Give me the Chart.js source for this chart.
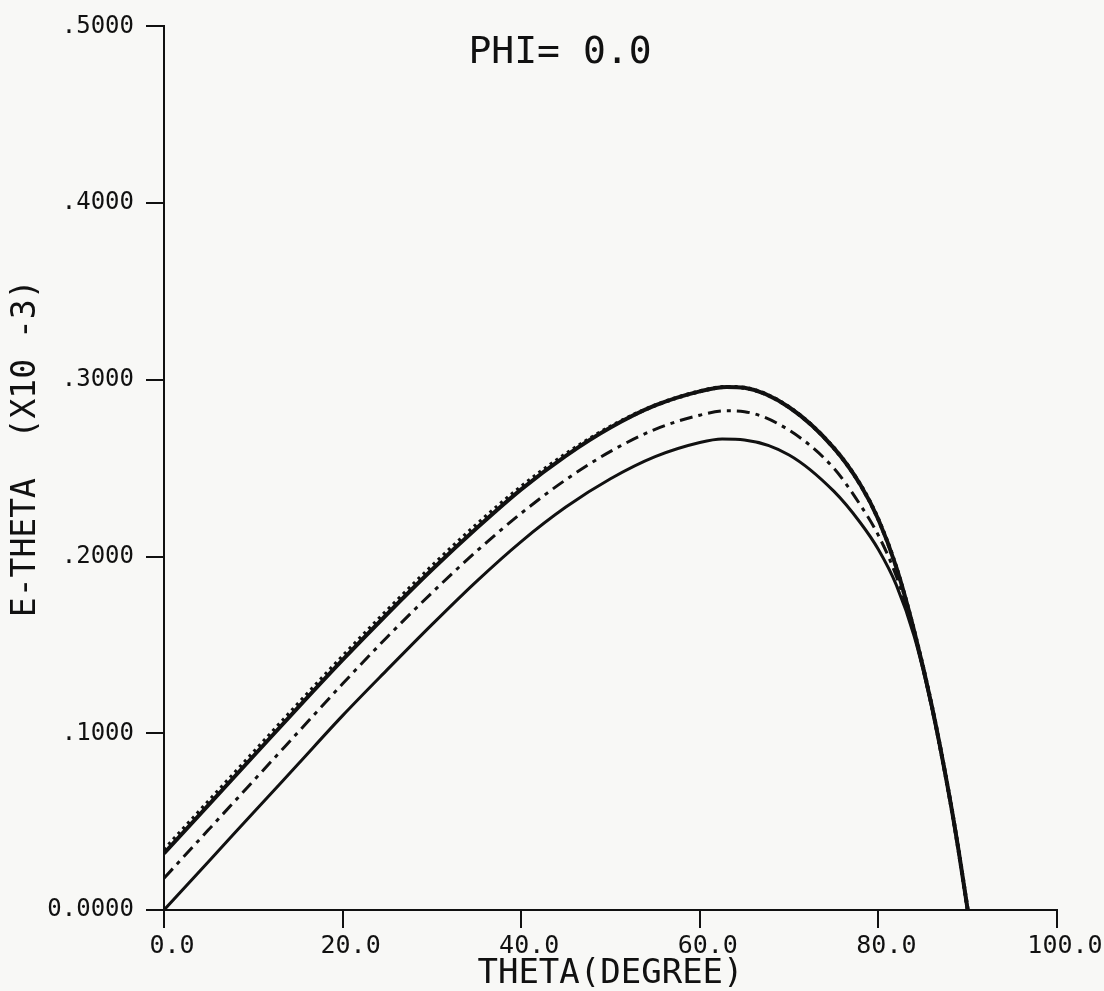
<!DOCTYPE html>
<html>
<head>
<meta charset="utf-8">
<script src="https://cdn.jsdelivr.net/npm/chart.js@4.4.1/dist/chart.umd.min.js"></script>
<style>
  html, body { margin: 0; padding: 0; background: #f8f8f6; }
  #wrap { width: 1104px; height: 991px; }
</style>
</head>
<body>
<div id="wrap"><canvas id="chart" width="1104" height="991"></canvas></div>
<script>
// ---- data ----
const thetaA = [0, 5, 10, 15, 20, 25, 30, 35, 40, 45, 50, 55, 60, 62.5, 65, 70, 75, 78, 80, 82, 84, 86, 88, 89, 90];
const solidA = [0, 0.0275, 0.055, 0.0825, 0.110, 0.136, 0.1615, 0.186, 0.2085, 0.228, 0.244, 0.2565, 0.2645, 0.2665, 0.266, 0.2575, 0.237, 0.219, 0.204, 0.184, 0.155, 0.114, 0.063, 0.033, 0];

const thetaB = [0, 5, 10, 15, 20, 25, 30, 35, 40, 45, 50, 55, 60, 63, 65, 70, 75, 78, 80, 82, 84, 86, 88, 89, 90];
const dashB = [0.018, 0.0455, 0.073, 0.1005, 0.128, 0.1545, 0.1795, 0.203, 0.2245, 0.2435, 0.2595, 0.272, 0.280, 0.2825, 0.282, 0.2715, 0.250, 0.229, 0.212, 0.189, 0.157, 0.115, 0.063, 0.033, 0];

const thetaC = [0, 5, 10, 15, 20, 25, 30, 35, 40, 45, 50, 55, 60, 63, 65, 70, 75, 78, 80, 82, 84, 86, 88, 89, 90];
const solidC = [0.032, 0.0595, 0.087, 0.1145, 0.1415, 0.1675, 0.1925, 0.216, 0.238, 0.257, 0.273, 0.2855, 0.2935, 0.296, 0.2955, 0.2845, 0.2615, 0.2405, 0.221, 0.194, 0.158, 0.115, 0.063, 0.033, 0];
const dotD = [0.034, 0.0615, 0.089, 0.1165, 0.1435, 0.1695, 0.1945, 0.218, 0.2395, 0.258, 0.2735, 0.2855, 0.2935, 0.296, 0.2955, 0.2845, 0.2615, 0.2405, 0.221, 0.194, 0.158, 0.115, 0.063, 0.033, 0];

const xTicks = [0, 20, 40, 60, 80, 100];
const xTickLabels = ["0.0", "20.0", "40.0", "60.0", "80.0", "100.0"];
const yTicks = [0, 0.1, 0.2, 0.3, 0.4, 0.5];
const yTickLabels = ["0.0000", ".1000", ".2000", ".3000", ".4000", ".5000"];

const INK = "#111";
const MONO = "'DejaVu Sans Mono', monospace";

function pts(xs, ys) {
  return xs.map((x, i) => ({ x: x, y: ys[i] }));
}

function line(data, width, dash) {
  return {
    data: data,
    borderColor: INK,
    borderWidth: width,
    borderDash: dash || [],
    pointRadius: 0,
    fill: false,
    cubicInterpolationMode: "monotone",
  };
}

// title sits inside the plot area, so draw it by hand
const phiTitle = {
  id: "phiTitle",
  afterDraw(chart) {
    const ctx = chart.ctx;
    ctx.save();
    ctx.fillStyle = INK;
    ctx.font = "38px " + MONO;
    ctx.textAlign = "center";
    ctx.textBaseline = "middle";
    ctx.fillText("PHI= 0.0", 560, 53);
    ctx.restore();
  },
};

new Chart(document.getElementById("chart"), {
  type: "line",
  data: {
    datasets: [
      line(pts(thetaA, solidA), 3),
      line(pts(thetaB, dashB), 3, [13, 6, 4, 6]),
      line(pts(thetaC, solidC), 4),
      line(pts(thetaC, dotD), 4, [3, 4]),
    ],
  },
  options: {
    responsive: false,
    animation: false,
    layout: { padding: { left: 4, right: 47, top: 22, bottom: 0 } },
    plugins: { legend: { display: false }, tooltip: { enabled: false } },
    scales: {
      x: {
        type: "linear",
        min: 0,
        max: 100,
        afterBuildTicks: (s) => { s.ticks = xTicks.map((v) => ({ value: v })); },
        afterFit: (s) => { s.height = 81; },
        border: { display: true, color: INK, width: 2 },
        grid: { drawOnChartArea: false, drawTicks: true, tickLength: 18, color: INK, lineWidth: 2 },
        ticks: {
          color: INK,
          font: { family: MONO, size: 25 },
          padding: 3,
          labelOffset: 8,
          maxRotation: 0,
          callback: (v, i) => xTickLabels[i],
        },
        title: {
          display: true,
          text: "THETA(DEGREE)",
          color: INK,
          font: { family: MONO, size: 34, lineHeight: 1.0 },
          padding: { top: 0, bottom: 0 },
        },
      },
      y: {
        type: "linear",
        min: 0,
        max: 0.5,
        afterBuildTicks: (s) => { s.ticks = yTicks.map((v) => ({ value: v })); },
        afterFit: (s) => { s.width = 160; },
        border: { display: true, color: INK, width: 2 },
        grid: { drawOnChartArea: false, drawTicks: true, tickLength: 18, color: INK, lineWidth: 2 },
        ticks: {
          color: INK,
          font: { family: MONO, size: 24 },
          padding: 12,
          callback: (v, i) => yTickLabels[i],
        },
        title: {
          display: true,
          text: "  E-THETA  (X10 -3)",
          color: INK,
          font: { family: MONO, size: 33 },
          padding: { top: 3, bottom: 0 },
        },
      },
    },
  },
  plugins: [phiTitle],
});
</script>
</body>
</html>
